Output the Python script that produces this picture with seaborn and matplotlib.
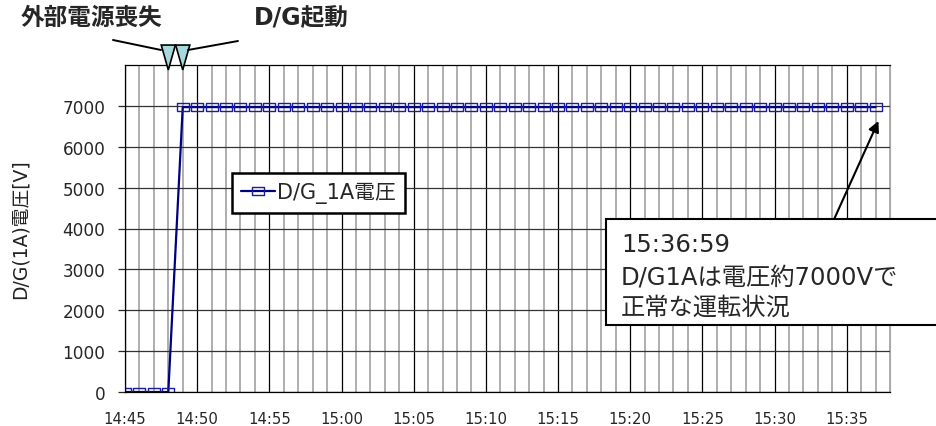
import matplotlib
matplotlib.use('Agg')
import matplotlib.pyplot as plt
import matplotlib.dates as mdates
from matplotlib.patches import Polygon, Rectangle
from matplotlib.lines import Line2D
from matplotlib.transforms import blended_transform_factory
import seaborn as sns
import pandas as pd

# data (one sample per minute)
times = ['14:45', '14:46', '14:47', '14:48', '14:49', '14:50', '14:51', '14:52',
         '14:53', '14:54', '14:55', '14:56', '14:57', '14:58', '14:59', '15:00',
         '15:01', '15:02', '15:03', '15:04', '15:05', '15:06', '15:07', '15:08',
         '15:09', '15:10', '15:11', '15:12', '15:13', '15:14', '15:15', '15:16',
         '15:17', '15:18', '15:19', '15:20', '15:21', '15:22', '15:23', '15:24',
         '15:25', '15:26', '15:27', '15:28', '15:29', '15:30', '15:31', '15:32',
         '15:33', '15:34', '15:35', '15:36', '15:37']
voltage = [0, 0, 0, 0, 6970, 6970, 6970, 6970,
           6970, 6970, 6970, 6970, 6970, 6970, 6970, 6970,
           6970, 6970, 6970, 6970, 6970, 6970, 6970, 6970,
           6970, 6970, 6970, 6970, 6970, 6970, 6970, 6970,
           6970, 6970, 6970, 6970, 6970, 6970, 6970, 6970,
           6970, 6970, 6970, 6970, 6970, 6970, 6970, 6970,
           6970, 6970, 6970, 6970, 6970]
series_label = 'D/G_1A電圧'
event_times = ['14:48', '14:49']
event_labels = ['外部電源喪失', 'D/G起動']
note_lines = ['15:36:59', 'D/G1Aは電圧約7000Vで', '正常な運転状況']
y_ticks = [0, 1000, 2000, 3000, 4000, 5000, 6000, 7000]

day = '2011-03-11 '
df = pd.DataFrame({'time': pd.to_datetime([day + t for t in times]), 'V': voltage})

sns.set_style('white')
plt.rcParams['font.family'] = ['DejaVu Sans', 'Noto Sans CJK JP']

W, H = 937, 427
fig = plt.figure(figsize=(W / 100, H / 100), dpi=100)
ax = fig.add_axes([125 / W, 1 - 393 / H, 765 / W, 327 / H])

# wide open rectangle marker like the original
rect_marker = [(-1.4, -1), (1.4, -1), (1.4, 1), (-1.4, 1), (-1.4, -1)]
sns.lineplot(data=df, x='time', y='V', ax=ax, color='#000080', linewidth=1.6,
             marker=rect_marker, markersize=8, markerfacecolor='none',
             markeredgecolor='#1c1ca0', markeredgewidth=1.0, label=series_label)

ax.set_xlim(pd.Timestamp(day + '14:45'), pd.Timestamp(day + '15:38'))
ax.set_ylim(0, 8000)
ax.set_yticks(y_ticks)
ax.xaxis.set_major_locator(mdates.MinuteLocator(byminute=range(0, 60, 5)))
ax.xaxis.set_minor_locator(mdates.MinuteLocator())
ax.xaxis.set_major_formatter(mdates.DateFormatter('%H:%M'))
ax.grid(which='minor', axis='x', color='#a8a8a8', linewidth=1.3)
ax.grid(which='major', axis='x', color='black', linewidth=0.9)
ax.grid(which='major', axis='y', color='#333333', linewidth=0.9)
ax.set_axisbelow(True)
ax.tick_params(axis='x', which='both', length=0, pad=14, labelsize=10.7)
ax.tick_params(axis='y', length=5, width=0.9, direction='out', left=True,
               labelsize=12.2, pad=9)
ax.set_xlabel('')
ax.set_ylabel('D/G(1A)電圧[V]', fontsize=13.5, labelpad=24, color='#222222')
for s in ['left', 'bottom', 'top']:
    ax.spines[s].set_color('black')
    ax.spines[s].set_linewidth(0.9)
ax.spines['right'].set_color('#a8a8a8')

leg = ax.legend(loc='upper left', bbox_to_anchor=(0.14, 0.67), fontsize=15,
                handlelength=1.6, handletextpad=0.1, borderpad=0.45,
                borderaxespad=0, fancybox=False, framealpha=1, edgecolor='black')
leg.get_frame().set_linewidth(1.8)

# event triangles above the plot
bt = blended_transform_factory(ax.transData, ax.transAxes)
half = 0.49 / 1440
for t in event_times:
    xc = mdates.date2num(pd.Timestamp(day + t))
    tri = Polygon([[xc - half, 1.061], [xc + half, 1.061], [xc, 0.985]],
                  closed=True, facecolor='#a6d8dc', edgecolor='black',
                  linewidth=1.2, transform=bt, clip_on=False, zorder=5)
    ax.add_patch(tri)

fig.text(92 / W, 1 - 18 / H, event_labels[0], fontsize=17, fontweight='bold',
         ha='center', va='center')
fig.text(301 / W, 1 - 18 / H, event_labels[1], fontsize=17, fontweight='bold',
         ha='center', va='center')
fig.add_artist(Line2D([113 / W, 161 / W], [1 - 41 / H, 1 - 51 / H],
                      color='black', linewidth=1.4, transform=fig.transFigure))
fig.add_artist(Line2D([188 / W, 238 / W], [1 - 51 / H, 1 - 42 / H],
                      color='black', linewidth=1.4, transform=fig.transFigure))

# callout at the last sample
ax.annotate('', xy=(pd.Timestamp(day + '15:37:12'), 6630),
            xytext=(pd.Timestamp(day + '15:34:04'), 4180),
            arrowprops=dict(arrowstyle='-|>', color='black', lw=1.5,
                            mutation_scale=16, shrinkA=0, shrinkB=0))
box = Rectangle((606 / W, 1 - 326 / H), 340 / W, 106 / H,
                transform=fig.transFigure, facecolor='white',
                edgecolor='black', linewidth=1.5, zorder=6)
fig.add_artist(box)
for txt, y in zip(note_lines, [245, 278, 308]):
    fig.text(621 / W, 1 - y / H, txt, fontsize=17.5,
             ha='left', va='center', zorder=7)

fig.savefig('out.png', dpi=100)
